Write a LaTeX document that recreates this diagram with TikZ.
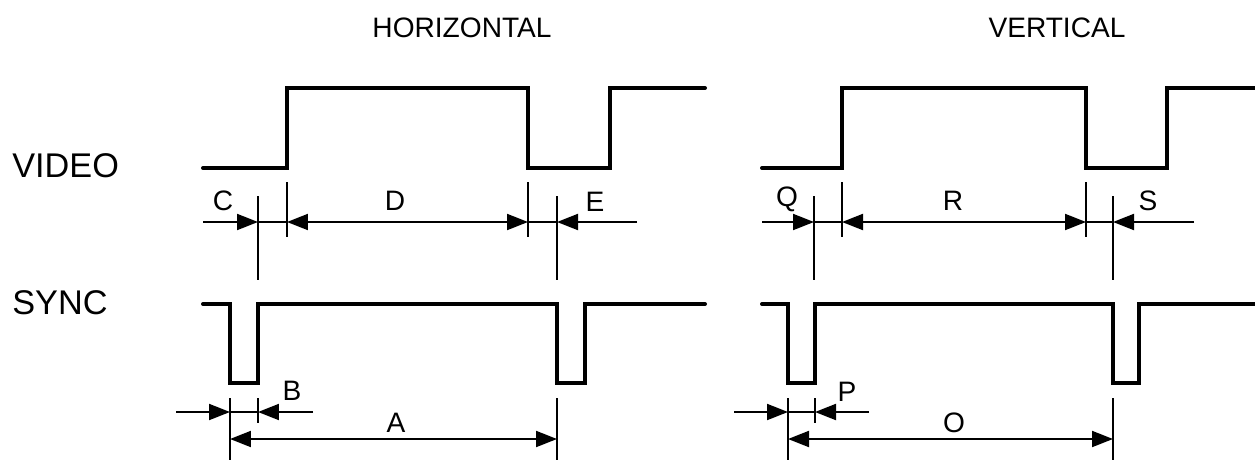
\documentclass[tikz,border=0pt]{standalone}
\usepackage{fontspec}
\setmainfont{Liberation Sans}
\usetikzlibrary{arrows.meta}

\begin{document}
\begin{tikzpicture}[x=0.02cm, y=-0.02cm,
  sig/.style={line width=0.8mm, line cap=round},
  dimline/.style={line width=0.4mm},
  dimto/.style={dimline, -{Triangle[length=4.2mm,width=3.2mm]}},
  dimboth/.style={dimline, {Triangle[length=4.2mm,width=3.2mm]}-{Triangle[length=4.2mm,width=3.2mm]}},
  lbl/.style={font=\fontsize{16}{19}\selectfont, inner sep=0pt},
  ttl/.style={font=\fontsize{16}{19}\selectfont, inner sep=0pt},
  row/.style={font=\fontsize{19.5}{23}\selectfont, inner sep=0pt, anchor=west}
]
\useasboundingbox (0,0) rectangle (1255,460);

% titles and rows
\node[ttl] (htitle) at (462,28) {HORIZONTAL};
\node[ttl] (vtitle) at (1057,28) {VERTICAL};
\node[row] (video) at (12,166) {VIDEO};
\node[row] (sync) at (12,303) {SYNC};

% horizontal: signals
\draw[sig] (203,168) -- (287,168) -- (287,88) -- (528,88) -- (528,168)
  -- (610,168) -- (610,88) -- (705,88);
\draw[sig] (203,304) -- (230,304) -- (230,383) -- (258,383) -- (258,304)
  -- (557,304) -- (557,383) -- (585,383) -- (585,304) -- (705,304);

% horizontal: extension lines
\draw[dimline] (258,196) -- (258,280);
\draw[dimline] (287,182) -- (287,237);
\draw[dimline] (528,182) -- (528,237);
\draw[dimline] (557,196) -- (557,280);
\draw[dimline] (230,398) -- (230,460);
\draw[dimline] (258,398) -- (258,423);
\draw[dimline] (557,398) -- (557,460);

% horizontal: dimensions
\coordinate (c0) at (203,222);
\coordinate (c1) at (258,222);
\coordinate (d0) at (287,222);
\coordinate (d1) at (528,222);
\coordinate (e1) at (557,222);
\coordinate (e0) at (637,222);
\draw[dimto] (c0) -- (c1);
\draw[dimline] (c1) -- (d0);
\draw[dimboth] (d0) -- (d1);
\draw[dimline] (d1) -- (e1);
\draw[dimto] (e0) -- (e1);
\coordinate (b0) at (176,412);
\coordinate (b1) at (230,412);
\coordinate (b2) at (258,412);
\coordinate (b3) at (313,412);
\draw[dimto] (b0) -- (b1);
\draw[dimline] (b1) -- (b2);
\draw[dimto] (b3) -- (b2);
\coordinate (a0) at (230,439);
\coordinate (a1) at (557,439);
\draw[dimboth] (a0) -- (a1);
\node[lbl] (lc) at (223,201) {C};
\node[lbl] (ld) at (395,201) {D};
\node[lbl] (le) at (595,202) {E};
\node[lbl] (lb) at (292,391) {B};
\node[lbl] (la) at (396,423) {A};

% vertical: signals
\draw[sig] (762,168) -- (842,168) -- (842,88) -- (1086,88) -- (1086,168)
  -- (1167,168) -- (1167,88) -- (1262,88);
\draw[sig] (762,304) -- (788,304) -- (788,383) -- (815,383) -- (815,304)
  -- (1113,304) -- (1113,383) -- (1139,383) -- (1139,304) -- (1262,304);

% vertical: extension lines
\draw[dimline] (814,196) -- (814,280);
\draw[dimline] (842,182) -- (842,237);
\draw[dimline] (1086,182) -- (1086,237);
\draw[dimline] (1113,196) -- (1113,280);
\draw[dimline] (788,398) -- (788,460);
\draw[dimline] (815,398) -- (815,423);
\draw[dimline] (1113,398) -- (1113,460);

% vertical: dimensions
\coordinate (q0) at (762,222);
\coordinate (q1) at (814,222);
\coordinate (r0) at (842,222);
\coordinate (r1) at (1086,222);
\coordinate (s1) at (1113,222);
\coordinate (s0) at (1194,222);
\draw[dimto] (q0) -- (q1);
\draw[dimline] (q1) -- (r0);
\draw[dimboth] (r0) -- (r1);
\draw[dimline] (r1) -- (s1);
\draw[dimto] (s0) -- (s1);
\coordinate (p0) at (734,412);
\coordinate (p1) at (788,412);
\coordinate (p2) at (815,412);
\coordinate (p3) at (869,412);
\draw[dimto] (p0) -- (p1);
\draw[dimline] (p1) -- (p2);
\draw[dimto] (p3) -- (p2);
\coordinate (o0) at (788,439);
\coordinate (o1) at (1113,439);
\draw[dimboth] (o0) -- (o1);
\node[lbl] (lq) at (787,199) {Q};
\node[lbl] (lr) at (953,201) {R};
\node[lbl] (ls) at (1148,201) {S};
\node[lbl] (lp) at (847,392) {P};
\node[lbl] (lo) at (954,423) {O};
\end{tikzpicture}
\end{document}
